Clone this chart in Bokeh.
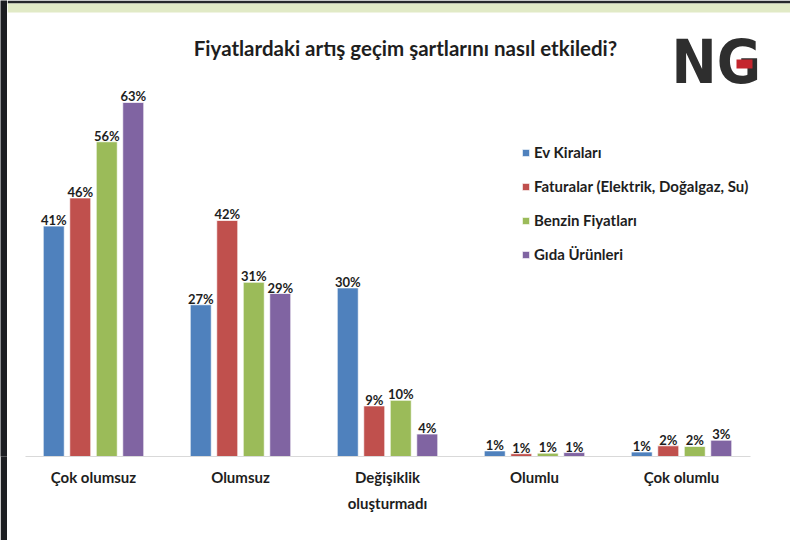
from bokeh.plotting import figure
from bokeh.layouts import row
from bokeh.models import (ColumnDataSource, Legend, LegendItem, Label,
                          FixedTicker, BoxAnnotation)
from bokeh.core.properties import value
from bokeh.embed import file_html
from bokeh.resources import INLINE

# ---- data ----
categories = ["Çok olumsuz", "Olumsuz", "Değişiklik\noluşturmadı", "Olumlu", "Çok olumlu"]
series_names = ["Ev Kiraları", "Faturalar (Elektrik, Doğalgaz, Su)",
                "Benzin Fiyatları", "Gıda Ürünleri"]
ev_kiralari = [41, 27, 30, 1.0, 0.8]
faturalar = [46, 42, 9, 0.5, 1.9]
benzin = [56, 31, 10, 0.6, 1.8]
gida = [63, 29, 4, 0.7, 2.9]
ev_kiralari_labels = [41, 27, 30, 1, 1]
faturalar_labels = [46, 42, 9, 1, 2]
benzin_labels = [56, 31, 10, 1, 2]
gida_labels = [63, 29, 4, 1, 3]
title_text = "Fiyatlardaki artış geçim şartlarını nasıl etkiledi?"

series_values = [ev_kiralari, faturalar, benzin, gida]
series_labels = [ev_kiralari_labels, faturalar_labels, benzin_labels, gida_labels]
colors = ["#4F81BD", "#C0504D", "#9BBB59", "#8064A2"]

FONT = "Lato"
TXT = "#1e1e1e"

# layout helpers: page pixel -> data coordinate
GX0, GSTEP = 93.0, 147.0     # first group centre and group pitch (px)
BASE, PPU = 456.0, 5.62      # baseline (px) and pixels per percent
STRIP = 7                    # dark strip on the left
def dx(px):
    return (px - GX0) / GSTEP
def dy(py):
    return (BASE - py) / PPU

# left dark strip
strip = figure(width=STRIP, height=540, output_backend="svg", toolbar_location=None,
               x_axis_location=None, y_axis_location=None,
               min_border=0, x_range=(0, 1), y_range=(0, 1),
               background_fill_color="#1C1E22", border_fill_color="#1C1E22")
strip.outline_line_color = None
strip.grid.visible = False

W = 790 - STRIP
p = figure(width=W, height=540, output_backend="svg", toolbar_location=None,
           x_range=(dx(STRIP), dx(790)), y_range=(0, dy(0)),
           y_axis_location=None,
           min_border_left=0, min_border_right=0,
           min_border_top=0, min_border_bottom=int(540 - BASE),
           background_fill_color="white", border_fill_color="white")
p.outline_line_color = None
p.grid.visible = False

# bars
step = 26.5 / GSTEP
width = 21.0 / GSTEP
items = []
xs = list(range(len(categories)))
for i, (name, vals, labs, col) in enumerate(zip(series_names, series_values, series_labels, colors)):
    off = (i - 1.5) * step
    src = ColumnDataSource(dict(x=[x + off for x in xs], top=vals,
                                lab=[f"{v}%" for v in labs]))
    r = p.vbar(x="x", top="top", width=width, source=src,
               fill_color=col, line_color="white", line_alpha=0.7, line_width=1)
    p.text(x="x", y="top", text="lab", source=src, text_align="center",
           text_baseline="alphabetic", y_offset=-6, text_font=value(FONT),
           text_font_style="bold", text_font_size="13px", text_color=TXT)
    items.append(LegendItem(label=name, renderers=[r]))

legend = Legend(items=items, location=(521 - STRIP, 192), orientation="vertical",
                glyph_width=9, glyph_height=9, label_height=20, spacing=14,
                label_standoff=4, padding=0, margin=0,
                border_line_color=None, background_fill_alpha=0,
                label_text_font=FONT, label_text_font_style="bold",
                label_text_font_size="15px", label_text_color=TXT)
p.add_layout(legend, "center")

# x axis
ax = p.xaxis[0]
ax.ticker = FixedTicker(ticks=xs)
ax.bounds = (dx(25), dx(750))
ax.major_label_overrides = {i: c for i, c in enumerate(categories)}
ax.axis_line_color = "#D9D9D9"
ax.axis_line_width = 1
ax.major_tick_line_color = None
ax.minor_tick_line_color = None
ax.major_label_standoff = 5
ax.major_label_text_font = FONT
ax.major_label_text_font_style = "bold"
ax.major_label_text_font_size = "15px"
ax.major_label_text_color = TXT
ax.major_label_text_line_height = 1.45

# title
p.add_layout(Label(x=dx(405), y=dy(47), text=title_text, text_align="center",
                   text_baseline="middle", text_font=FONT, text_font_style="bold",
                   text_font_size="20.5px", text_color=TXT))

# logo "NG"
p.add_layout(Label(x=dx(671), y=dy(61), text="NG", text_align="left",
                   text_baseline="middle",
                   text_font="'Liberation Sans Narrow', 'DejaVu Sans Condensed', Roboto",
                   text_font_style="bold", text_font_size="60px", text_color="#2e2e2e"))
p.add_layout(BoxAnnotation(left=dx(736), right=dx(752), bottom=dy(68), top=dy(59),
                           fill_color="#C4262E", fill_alpha=1, line_color=None))

# top decorative band
p.add_layout(BoxAnnotation(bottom=dy(3), top=dy(0), fill_color="#26282B", fill_alpha=1,
                           line_color=None))
p.add_layout(BoxAnnotation(bottom=dy(12), top=dy(3), fill_color="#E1EAC6", fill_alpha=1,
                           line_color=None))

layout = row(strip, p, spacing=0)
open("out.html", "w").write(file_html(layout, INLINE))
